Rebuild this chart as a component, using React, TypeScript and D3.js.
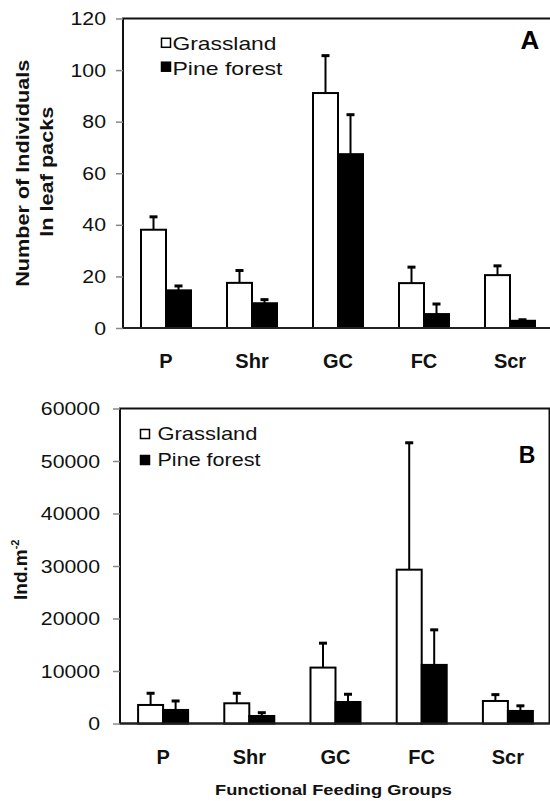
import React, { useEffect, useRef } from 'react';
import * as d3 from 'd3';

// categories and series
const categories = ['P', 'Shr', 'GC', 'FC', 'Scr'];
const seriesNames = ['Grassland', 'Pine forest'];

// panel A: number of individuals in leaf packs (mean, upper error)
const leafGrass = [38.1, 17.5, 91.1, 17.4, 20.5];
const leafGrassErr = [5.0, 4.8, 14.5, 6.2, 3.6];
const leafPine = [14.6, 9.6, 67.4, 5.4, 2.8];
const leafPineErr = [1.7, 1.4, 15.3, 3.9, 0.4];
const leafTicks = [0, 20, 40, 60, 80, 100, 120];

// panel B: density, ind. per m2
const densGrass = [3530, 3850, 10650, 29300, 4290];
const densGrassErr = [2230, 1910, 4650, 24170, 1210];
const densPine = [2580, 1430, 4100, 11160, 2390];
const densPineErr = [1710, 630, 1470, 6680, 980];
const densTicks = [0, 10000, 20000, 30000, 40000, 50000, 60000];

const FONT = '"Liberation Sans", Arial, Helvetica, sans-serif';

const App = () => {
  const ref = useRef(null);

  useEffect(() => {
    const svg = d3.select(ref.current);
    svg.selectAll('*').remove();

    const drawPanel = (p) => {
      const g = svg.append('g');

      const x = d3.scaleBand().domain(categories).range([p.left, p.right]).paddingInner(0).paddingOuter(0);
      const bw = x.bandwidth();
      const barW = 25;
      const xs = d3.scaleBand().domain(seriesNames).range([bw / 2 - barW, bw / 2 + barW]);
      const y = d3.scaleLinear().domain([0, p.max]).range([p.bottom, p.top]);

      // frame
      g.append('rect')
        .attr('x', p.left)
        .attr('y', p.top)
        .attr('width', p.frameRight - p.left)
        .attr('height', p.bottom - p.top)
        .attr('fill', 'none')
        .attr('stroke', '#111')
        .attr('stroke-width', 2);

      // y axis
      const yAxis = g.append('g')
        .attr('transform', `translate(${p.left},0)`)
        .call(d3.axisLeft(y).tickValues(p.ticks).tickSize(7).tickSizeOuter(0).tickFormat(d3.format('d')));
      yAxis.select('.domain').remove();
      yAxis.selectAll('line').attr('stroke', '#888').attr('stroke-width', 1.5);
      yAxis.selectAll('text')
        .attr('x', -p.tickGap / 1.12)
        .attr('transform', 'scale(1.12,1)')
        .style('font-family', FONT)
        .style('font-size', '19px')
        .attr('fill', '#111');

      // category labels
      g.selectAll('.cat')
        .data(categories)
        .enter()
        .append('text')
        .attr('x', (d) => x(d) + bw / 2)
        .attr('y', p.catY)
        .attr('text-anchor', 'middle')
        .style('font-family', FONT)
        .style('font-size', '20px')
        .style('font-weight', 'bold')
        .attr('fill', '#111')
        .text((d) => d);

      const rows = categories.map((c, i) => ({
        c,
        vals: [
          { s: seriesNames[0], v: p.grass[i], e: p.grassErr[i] },
          { s: seriesNames[1], v: p.pine[i], e: p.pineErr[i] },
        ],
      }));

      const grp = g.selectAll('.grp')
        .data(rows)
        .enter()
        .append('g')
        .attr('transform', (d) => `translate(${x(d.c)},0)`);

      // error bars (upper only)
      grp.selectAll('.err')
        .data((d) => d.vals)
        .enter()
        .append('line')
        .attr('x1', (d) => xs(d.s) + xs.bandwidth() / 2)
        .attr('x2', (d) => xs(d.s) + xs.bandwidth() / 2)
        .attr('y1', (d) => y(d.v))
        .attr('y2', (d) => y(d.v + d.e))
        .attr('stroke', '#000')
        .attr('stroke-width', 2);

      grp.selectAll('.cap')
        .data((d) => d.vals)
        .enter()
        .append('line')
        .attr('x1', (d) => xs(d.s) + xs.bandwidth() / 2 - 4)
        .attr('x2', (d) => xs(d.s) + xs.bandwidth() / 2 + 4)
        .attr('y1', (d) => y(d.v + d.e))
        .attr('y2', (d) => y(d.v + d.e))
        .attr('stroke', '#000')
        .attr('stroke-width', 3);

      // bars
      grp.selectAll('.bar')
        .data((d) => d.vals)
        .enter()
        .append('rect')
        .attr('x', (d) => xs(d.s))
        .attr('y', (d) => y(d.v))
        .attr('width', xs.bandwidth())
        .attr('height', (d) => p.bottom - y(d.v))
        .attr('fill', (d) => (d.s === seriesNames[0] ? '#fff' : '#000'))
        .attr('stroke', '#000')
        .attr('stroke-width', 2);

      // baseline redrawn on top
      g.append('line')
        .attr('x1', p.left)
        .attr('x2', p.frameRight)
        .attr('y1', p.bottom)
        .attr('y2', p.bottom)
        .attr('stroke', '#222')
        .attr('stroke-width', 2);

      // legend
      seriesNames.forEach((s, i) => {
        g.append('rect')
          .attr('x', p.leg.sqX)
          .attr('y', p.leg.sqY[i] - 4.5)
          .attr('width', 9)
          .attr('height', 9)
          .attr('fill', i === 0 ? '#fff' : '#000')
          .attr('stroke', '#000')
          .attr('stroke-width', 1.5);
        g.append('text')
          .attr('x', p.leg.textX)
          .attr('y', p.leg.base[i])
          .attr('textLength', p.leg.len[i])
          .attr('lengthAdjust', 'spacingAndGlyphs')
          .style('font-family', FONT)
          .style('font-size', '19px')
          .attr('fill', '#111')
          .text(s);
      });

      // panel letter
      g.append('text')
        .attr('x', p.letter.x)
        .attr('y', p.letter.y)
        .attr('text-anchor', 'middle')
        .style('font-family', FONT)
        .style('font-size', p.letter.size + 'px')
        .style('font-weight', 'bold')
        .attr('fill', '#000')
        .text(p.letter.t);

      return g;
    };

    drawPanel({
      left: 123, right: 553, frameRight: 552, top: 18.5, bottom: 328, max: 120,
      ticks: leafTicks, tickGap: 17, catY: 367.5,
      grass: leafGrass, grassErr: leafGrassErr, pine: leafPine, pineErr: leafPineErr,
      leg: { sqX: 161.5, sqY: [42.8, 66.7], textX: 172.5, base: [50, 74.5], len: [104, 110] },
      letter: { t: 'A', x: 530, y: 49, size: 26 },
    });

    drawPanel({
      left: 120, right: 551, frameRight: 549.5, top: 408.5, bottom: 723.5, max: 60000,
      ticks: densTicks, tickGap: 20, catY: 764,
      grass: densGrass, grassErr: densGrassErr, pine: densPine, pineErr: densPineErr,
      leg: { sqX: 140.5, sqY: [434, 460], textX: 157.5, base: [440, 466], len: [100, 103] },
      letter: { t: 'B', x: 527, y: 463, size: 23 },
    });

    // y titles
    const yt1 = svg.append('text')
      .attr('transform', 'translate(28.5,173.3) rotate(-90)')
      .attr('text-anchor', 'middle')
      .attr('textLength', 227)
      .attr('lengthAdjust', 'spacingAndGlyphs')
      .style('font-family', FONT)
      .style('font-size', '19px')
      .style('font-weight', 'bold')
      .attr('fill', '#111')
      .text('Number of Individuals');
    svg.append('text')
      .attr('transform', 'translate(52.5,171.7) rotate(-90)')
      .attr('text-anchor', 'middle')
      .attr('textLength', 130)
      .attr('lengthAdjust', 'spacingAndGlyphs')
      .style('font-family', FONT)
      .style('font-size', '19px')
      .style('font-weight', 'bold')
      .attr('fill', '#111')
      .text('In leaf packs');

    const yb = svg.append('text')
      .attr('transform', 'translate(27,600) rotate(-90)')
      .attr('text-anchor', 'start')
      .style('font-family', FONT)
      .style('font-size', '19px')
      .style('font-weight', 'bold')
      .attr('fill', '#111');
    yb.append('tspan').text('Ind.m');
    yb.append('tspan').attr('dy', -8).style('font-size', '11px').text('-2');

    // x title
    svg.append('text')
      .attr('x', 333.5)
      .attr('y', 795)
      .attr('text-anchor', 'middle')
      .attr('textLength', 237)
      .attr('lengthAdjust', 'spacingAndGlyphs')
      .style('font-family', FONT)
      .style('font-size', '15px')
      .style('font-weight', 'bold')
      .attr('fill', '#111')
      .text('Functional Feeding Groups');
  }, []);

  return (
    <svg
      ref={ref}
      width={550}
      height={801}
      style={{ position: 'absolute', left: 0, top: 0, background: '#fff' }}
    ></svg>
  );
};

export default App;
